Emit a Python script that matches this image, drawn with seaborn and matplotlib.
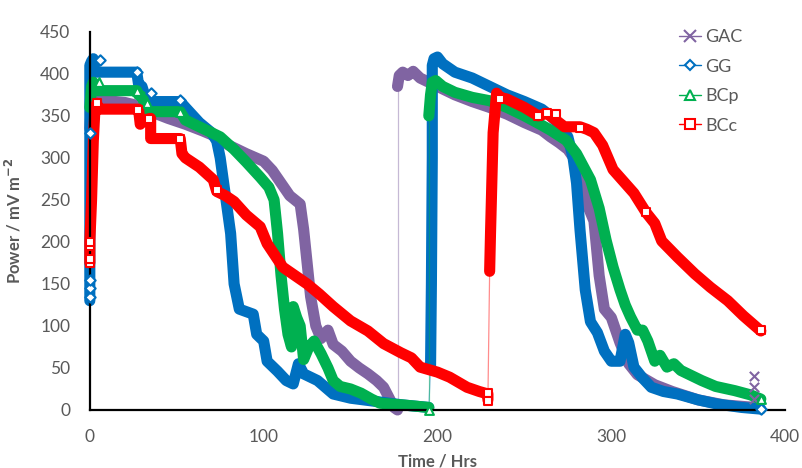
import numpy as np
import pandas as pd
import matplotlib
matplotlib.use("Agg")
import matplotlib.pyplot as plt
import seaborn as sns
from matplotlib.lines import Line2D

# ---------------------------------------------------------------------------
# data, two discharge cycles per electrode
# ---------------------------------------------------------------------------
SERIES = ["GAC", "GG", "BCp", "BCc"]
COLORS = {"GAC": "#8064A2", "GG": "#0070C0", "BCp": "#00B050", "BCc": "#FF0000"}
MARKERS = {"GAC": "x", "GG": "D", "BCp": "^", "BCc": "s"}

gac_t1 = [0, 0.5, 2, 5, 10, 20, 28, 35, 45, 55, 65, 73, 80, 90, 100, 105, 110, 115, 118,
          121, 123, 125, 127, 130, 133, 137, 140, 145, 150, 155, 160, 165, 169, 172, 175, 177]
gac_p1 = [335, 350, 362, 370, 368, 366, 362, 355, 347, 340, 332, 325, 315, 305, 296, 285, 270, 255, 250,
          245, 215, 175, 135, 100, 85, 95, 78, 70, 58, 50, 43, 35, 27, 15, 3, 0]
gac_t2 = [177, 178, 180, 183, 186, 190, 200, 210, 220, 230, 240, 250, 260, 265, 270, 275, 280, 283,
          286, 290, 293, 296, 300, 305, 310, 315, 325, 335, 350, 365, 383]
gac_p2 = [385, 398, 402, 398, 403, 395, 385, 375, 367, 360, 352, 342, 333, 325, 318, 310, 295, 285,
          245, 225, 160, 120, 110, 80, 55, 42, 30, 22, 12, 6, 3]

gg_t1 = [0, 0, 1, 2, 3, 27, 28, 30, 32, 33, 52, 55, 63, 70, 73, 75, 77, 79, 81, 83, 86, 94, 96, 100,
         102, 108, 113, 117, 120, 123, 131, 140, 150, 165, 180, 195]
gg_p1 = [130, 410, 415, 418, 402, 402, 388, 385, 372, 367, 367, 360, 342, 330, 320, 300, 270, 240, 210,
         150, 120, 114, 90, 82, 58, 46, 35, 31, 55, 43, 35, 19, 14, 10, 6, 3]
gg_t2 = [196, 196.5, 197, 197, 198, 200, 203, 210, 220, 230, 240, 250, 260, 265, 270, 275, 278, 280,
         282, 285, 288, 292, 296, 300, 305, 308, 310, 313, 318, 323, 330, 338, 350, 361, 375, 386]
gg_p2 = [50, 150, 300, 410, 418, 420, 412, 402, 395, 385, 375, 367, 358, 350, 340, 325, 300, 270,
         214, 143, 105, 92, 70, 58, 58, 90, 80, 51, 38, 27, 22, 19, 12, 7, 3, 1]

bcp_t1 = [0, 0.5, 1, 2, 3, 27, 28, 30, 32, 33, 52, 55, 60, 65, 75, 83, 90, 98, 103, 106, 108, 110,
          112, 114, 116, 117, 119, 121, 123, 126, 129, 133, 137, 140, 144, 150, 156, 162, 167, 180, 195]
bcp_p1 = [360, 372, 385, 390, 380, 380, 375, 373, 362, 355, 355, 345, 340, 335, 325, 310, 295, 277, 265,
          250, 210, 160, 120, 90, 75, 123, 110, 100, 60, 75, 82, 67, 50, 35, 28, 25, 20, 13, 8, 6, 3]
bcp_t2 = [195, 196, 197, 199, 203, 210, 220, 230, 240, 250, 259, 265, 274, 280, 288, 293, 297, 301,
          305, 308, 311, 315, 318, 321, 323, 325, 328, 332, 336, 340, 345, 352, 360, 371, 380, 386]
bcp_p2 = [350, 375, 390, 392, 385, 378, 372, 368, 360, 350, 340, 333, 321, 305, 274, 240, 202, 170,
          143, 125, 111, 95, 95, 82, 70, 58, 65, 51, 55, 47, 42, 35, 28, 23, 18, 13]

bcc_t1 = [0, 0, 1, 2, 3, 4, 5, 28, 29, 31, 35, 35, 52, 53, 55, 63, 71, 73, 78, 83, 90, 98, 102, 111,
          118, 125, 132, 140, 150, 160, 169, 179, 185, 190, 200, 207, 217, 224, 229, 229]
bcc_p1 = [175, 200, 250, 320, 360, 365, 358, 358, 340, 345, 347, 323, 323, 305, 300, 289, 274, 260, 255,
          248, 232, 218, 198, 170, 160, 150, 138, 123, 106, 94, 79, 68, 62, 51, 45, 39, 27, 22, 19, 12]
bcc_t2 = [230, 230.5, 232, 234, 236, 240, 244, 250, 254, 258, 263, 268, 273, 282, 286, 290, 295, 301,
          307, 313, 320, 325, 329, 338, 348, 357, 367, 376, 386]
bcc_p2 = [165, 210, 330, 377, 372, 370, 366, 360, 355, 350, 353, 345, 337, 337, 334, 330, 315, 286,
          272, 258, 235, 222, 201, 182, 162, 146, 130, 112, 94]

# single hollow markers that stand out of the bands
gac_mk_t = [382, 382, 382]
gac_mk_p = [40, 27, 13]
gg_mk_t = [0, 0, 0, 0, 6, 27, 35, 52, 386]
gg_mk_p = [135, 145, 155, 330, 417, 402, 377, 369, 1]
bcp_mk_t = [5, 27, 33, 52, 195, 386]
bcp_mk_p = [390, 380, 365, 355, 0, 13]
bcc_mk_t = [0, 0, 0, 0, 4, 28, 34, 52, 73, 229, 229, 236, 258, 263, 268, 282, 320, 386]
bcc_mk_p = [175, 180, 195, 200, 365, 357, 346, 323, 262, 20, 11, 370, 350, 353, 352, 336, 235, 95]

cycles = {
    "GAC": (gac_t1, gac_p1, gac_t2, gac_p2, gac_mk_t, gac_mk_p),
    "GG": (gg_t1, gg_p1, gg_t2, gg_p2, gg_mk_t, gg_mk_p),
    "BCp": (bcp_t1, bcp_p1, bcp_t2, bcp_p2, bcp_mk_t, bcp_mk_p),
    "BCc": (bcc_t1, bcc_p1, bcc_t2, bcc_p2, bcc_mk_t, bcc_mk_p),
}

# ---------------------------------------------------------------------------
# plot
# ---------------------------------------------------------------------------
sns.set_style("white")
plt.rcParams["font.family"] = ["Lato", "DejaVu Sans"]
GREY = "#595959"

fig = plt.figure(figsize=(8.02, 4.68), dpi=100)
ax = fig.add_axes([0.112, 0.124, 0.867, 0.808])

for name in SERIES:
    t1, p1, t2, p2, mt, mp = cycles[name]
    c = COLORS[name]
    band = pd.DataFrame({"time": t1 + t2, "power": p1 + p2,
                         "cycle": [1] * len(t1) + [2] * len(t2)})
    # thin joining line between the two cycles
    join = pd.DataFrame({"time": [t1[-1], t2[0]], "power": [p1[-1], p2[0]]})
    sns.lineplot(data=join, x="time", y="power", ax=ax, color=c, lw=0.9, alpha=0.45,
                 sort=False, estimator=None, legend=False)
    sns.lineplot(data=band, x="time", y="power", units="cycle", ax=ax, color=c, lw=8,
                 sort=False, estimator=None, legend=False,
                 solid_capstyle="round", solid_joinstyle="round")
    mk = pd.DataFrame({"time": mt, "power": mp})
    if MARKERS[name] == "x":
        sns.scatterplot(data=mk, x="time", y="power", ax=ax, marker="x", color=c,
                        s=45, linewidth=1.5, legend=False, zorder=5)
    else:
        sns.scatterplot(data=mk, x="time", y="power", ax=ax, marker=MARKERS[name],
                        facecolor="white", edgecolor=c, s=40 if name != "GG" else 28,
                        linewidth=1.5, legend=False, zorder=5)

for art in ax.lines + ax.collections:
    art.set_clip_on(False)

ax.set_xlim(0, 400)
ax.set_ylim(0, 450)
ax.set_xticks(np.arange(0, 401, 100))
ax.set_yticks(np.arange(0, 451, 50))
ax.tick_params(axis="both", length=0, labelsize=12.5, labelcolor=GREY)
ax.tick_params(axis="x", pad=14)
ax.tick_params(axis="y", pad=14)
sns.despine(ax=ax)
for side in ["left", "bottom"]:
    ax.spines[side].set_color("black")
    ax.spines[side].set_linewidth(1.6)

ax.set_xlabel("Time / Hrs", fontsize=12, fontweight="bold", color=GREY)
ax.set_ylabel(r"Power / mV m$^{\mathbf{-2}}$", fontsize=12, fontweight="bold", color=GREY)
ax.xaxis.set_label_coords(0.5, -0.115)
ax.yaxis.set_label_coords(-0.095, 0.5)

handles = []
for n in SERIES:
    if MARKERS[n] == "x":
        h = Line2D([], [], color=COLORS[n], lw=1, marker="x", ms=8, mew=1.5)
    else:
        h = Line2D([], [], color=COLORS[n], lw=1, marker=MARKERS[n], ms=7 if n != "GG" else 5.5,
                   mfc="white", mec=COLORS[n], mew=1.5)
    handles.append(h)
leg = ax.legend(handles, SERIES, loc="upper left", bbox_to_anchor=(670 / 802, 1 - 20 / 468),
                bbox_transform=fig.transFigure, frameon=False, fontsize=13, labelspacing=0.75,
                handlelength=1.2, handletextpad=0.25, borderpad=0)
for txt in leg.get_texts():
    txt.set_color(GREY)
for line in leg.get_lines():
    line.set_alpha(None)

fig.savefig("out.png", dpi=100)
